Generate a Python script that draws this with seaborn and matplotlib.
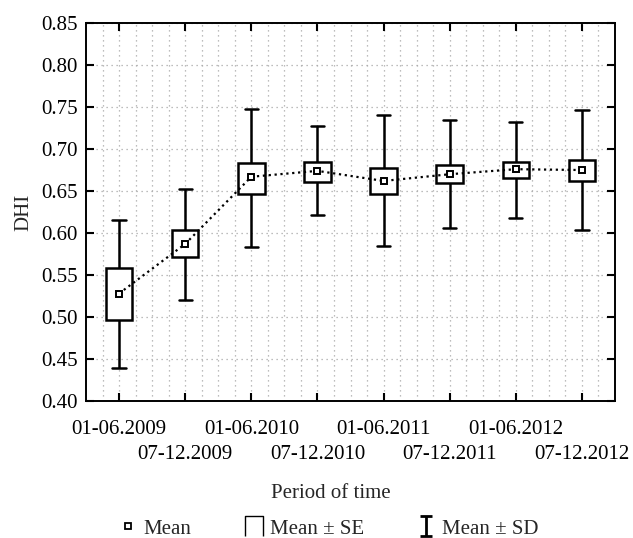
import numpy as np
import pandas as pd
import matplotlib.pyplot as plt
import seaborn as sns
from matplotlib.lines import Line2D
from matplotlib.path import Path

periods = ["01-06.2009", "07-12.2009", "01-06.2010", "07-12.2010",
           "01-06.2011", "07-12.2011", "01-06.2012", "07-12.2012"]
mean = [0.528, 0.587, 0.667, 0.674, 0.662, 0.670, 0.676, 0.675]
se_low = [0.496, 0.571, 0.646, 0.661, 0.646, 0.659, 0.666, 0.662]
se_high = [0.558, 0.604, 0.683, 0.685, 0.678, 0.681, 0.685, 0.687]
sd_low = [0.439, 0.520, 0.583, 0.621, 0.584, 0.606, 0.618, 0.604]
sd_high = [0.615, 0.652, 0.748, 0.728, 0.740, 0.734, 0.732, 0.746]

# five values per period: with whis=(0, 100) the box is mean±SE and the whiskers mean±SD
rows = []
for i, p in enumerate(periods):
    for v in (sd_low[i], se_low[i], mean[i], se_high[i], sd_high[i]):
        rows.append({"period": p, "DHI": v})
df = pd.DataFrame(rows)

sns.set_theme(style="white")
plt.rcParams["font.family"] = ["Liberation Serif", "DejaVu Serif"]
plt.rcParams["font.size"] = 15

fig = plt.figure(figsize=(6.33, 5.38), dpi=100)
ax = fig.add_axes([0.1359, 0.2546, 0.8357, 0.7026])

sns.boxplot(data=df, x="period", y="DHI", order=periods, whis=(0, 100),
            width=0.4, color="white", linecolor="black", linewidth=1.8,
            medianprops={"visible": False}, showfliers=False, ax=ax)

sns.pointplot(x=periods, y=mean, order=periods, color="black", markers="s",
              linestyles=":", errorbar=None, markersize=4, linewidth=1.6,
              markerfacecolor="white", markeredgecolor="black",
              markeredgewidth=1.4, zorder=5, ax=ax)

ax.set_xlim(-0.5, 7.5)
ax.set_ylim(0.40, 0.85)
ax.set_yticks(np.arange(0.40, 0.851, 0.05))
ax.set_yticklabels([f"{t:.2f}" for t in np.arange(0.40, 0.851, 0.05)], fontsize=15)
ax.set_xticks(range(len(periods)))
ax.set_xticklabels(periods, fontsize=15)
ax.set_xticks(np.arange(-0.25, 7.3, 0.25), minor=True)

ax.set_axisbelow(True)
grid_kw = dict(color="#a8a8a8", linestyle=(0, (1, 3)), linewidth=0.9)
ax.grid(axis="y", which="major", **grid_kw)
ax.grid(axis="x", which="both", **grid_kw)

ax.tick_params(which="major", direction="in", length=6, width=1.5,
               top=True, right=True, bottom=True, left=True, colors="black",
               labelcolor="black", pad=6)
ax.tick_params(which="minor", length=0)
# labels alternate between two rows below the axis
for i, tick in enumerate(ax.xaxis.get_major_ticks()):
    tick.set_pad(14 if i % 2 == 0 else 32)
for s in ax.spines.values():
    s.set_visible(True)
    s.set_color("black")
    s.set_linewidth(1.4)

ax.set_xlabel("Period of time", fontsize=15)
ax.set_ylabel("DHI", fontsize=15)
ax.xaxis.label.set_va("center")
ax.xaxis.set_label_coords(0.463, -0.245)
ax.yaxis.set_label_coords(-0.1, 0.5)

se_path = Path([(-1, -1.1), (-1, 1.1), (1, 1.1), (1, -1.1)])
sd_path = Path([(-0.6, 1), (0.6, 1), (0, 1), (0, -1), (-0.6, -1), (0.6, -1)],
               [Path.MOVETO, Path.LINETO, Path.MOVETO, Path.LINETO,
                Path.MOVETO, Path.LINETO])
handles = [
    Line2D([], [], ls="none", marker="s", ms=4, mfc="white", mec="black", mew=1.3),
    Line2D([], [], ls="none", marker=se_path, ms=15, mfc="none", mec="black", mew=1.0),
    Line2D([], [], ls="none", marker=sd_path, ms=15, mfc="none", mec="black", mew=2.0),
]
fig.legend(handles, ["Mean", "Mean ± SE", "Mean ± SD"], loc="center",
           bbox_to_anchor=(0.52, 0.017), ncol=3, frameon=False, fontsize=15,
           handlelength=0.8, handletextpad=0.35, columnspacing=2.6,
           borderpad=0, borderaxespad=0)

fig.savefig("out.png", dpi=100)
